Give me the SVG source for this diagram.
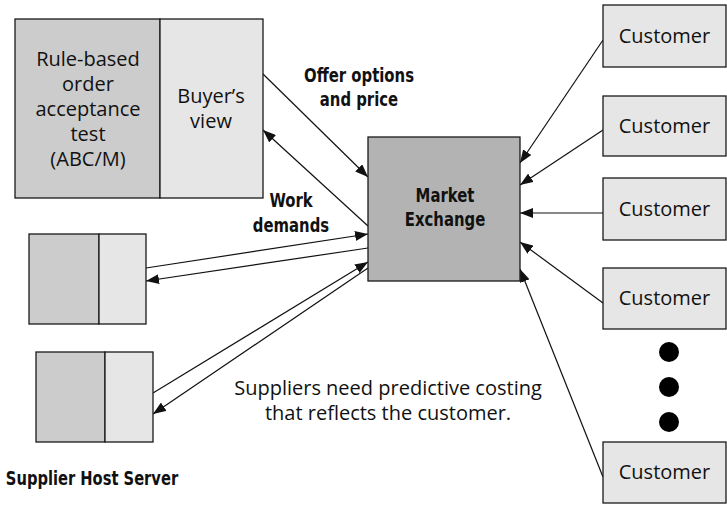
<svg xmlns="http://www.w3.org/2000/svg" width="727" height="505" viewBox="0 0 727 505">
<style>
.box{stroke:#1a1a1a;stroke-width:1.3}
.dark{fill:#cccccc}
.light{fill:#e6e6e6}
.mkt{fill:#b3b3b3}
.t{font-family:"Open Sans","DejaVu Sans",sans-serif;font-size:20px;fill:#111;text-anchor:middle}
.b{font-family:"DejaVu Sans Condensed","Liberation Sans",sans-serif;font-stretch:condensed;font-weight:bold;font-size:19px;fill:#111;text-anchor:middle}
.c{stroke:#111;stroke-width:1.2;fill:none;marker-end:url(#ah)}
</style>
<defs>
<marker id="ah" markerUnits="userSpaceOnUse" markerWidth="13" markerHeight="10" refX="13" refY="5" orient="auto">
<path d="M0,0 L13,5 L0,10 Z" fill="#111"/>
</marker>
</defs>
<rect width="727" height="505" fill="#fff"/>
<g id="connectors">
<path class="c" d="M603,40 L520,163"/>
<path class="c" d="M603,130 L520,185"/>
<path class="c" d="M603,213 L520,213"/>
<path class="c" d="M603,303 L520,242"/>
<path class="c" d="M603,477 L520,269"/>
<path class="c" d="M263,74 L368,177"/>
<path class="c" d="M368,226 L263,130"/>
<path class="c" d="M146,268 L368,234"/>
<path class="c" d="M368,248 L146,281"/>
<path class="c" d="M153,393 L368,262"/>
<path class="c" d="M368,268 L153,414"/>
</g>
<g id="supplier-main">
<rect class="box dark" x="15" y="19" width="145" height="179"/>
<rect class="box light" x="160" y="19" width="103" height="179"/>
<text class="t" x="88" y="66">Rule-based</text>
<text class="t" x="88" y="91">order</text>
<text class="t" x="88" y="116">acceptance</text>
<text class="t" x="88" y="141">test</text>
<text class="t" x="88" y="166">(ABC/M)</text>
<text class="t" x="211" y="103">Buyer’s</text>
<text class="t" x="211" y="128">view</text>
</g>
<g id="supplier-2">
<rect class="box dark" x="29" y="234" width="70" height="90"/>
<rect class="box light" x="99" y="234" width="47" height="90"/>
</g>
<g id="supplier-3">
<rect class="box dark" x="36" y="352" width="69" height="90"/>
<rect class="box light" x="105" y="352" width="48" height="90"/>
</g>
<g id="market">
<rect class="box mkt" x="368" y="137" width="152" height="144"/>
<text class="b" transform="translate(445,202) scale(0.87,1)">Market</text>
<text class="b" transform="translate(445,226) scale(0.87,1)">Exchange</text>
</g>
<g id="customer-1">
<rect class="box light" x="603" y="5" width="123" height="62"/>
<text class="t" x="664.5" y="43">Customer</text>
</g>
<g id="customer-2">
<rect class="box light" x="603" y="96" width="123" height="60"/>
<text class="t" x="664.5" y="133">Customer</text>
</g>
<g id="customer-3">
<rect class="box light" x="603" y="178" width="123" height="62"/>
<text class="t" x="664.5" y="216">Customer</text>
</g>
<g id="customer-4">
<rect class="box light" x="603" y="268" width="123" height="61"/>
<text class="t" x="664.5" y="305">Customer</text>
</g>
<g id="customer-5">
<rect class="box light" x="603" y="442" width="123" height="61"/>
<text class="t" x="664.5" y="479">Customer</text>
</g>
<g id="dots" fill="#000">
<circle cx="669" cy="352" r="10"/>
<circle cx="669" cy="387" r="10"/>
<circle cx="669" cy="422" r="10"/>
</g>
<g id="labels">
<text class="b" transform="translate(359,82) scale(0.87,1)">Offer options</text>
<text class="b" transform="translate(359,106) scale(0.87,1)">and price</text>
<text class="b" transform="translate(291,207) scale(0.87,1)">Work</text>
<text class="b" transform="translate(291,232) scale(0.87,1)">demands</text>
<text class="b" transform="translate(92,485) scale(0.86,1)">Supplier Host Server</text>
<text class="t" x="388" y="395">Suppliers need predictive costing</text>
<text class="t" x="388" y="420">that reflects the customer.</text>
</g>
</svg>
